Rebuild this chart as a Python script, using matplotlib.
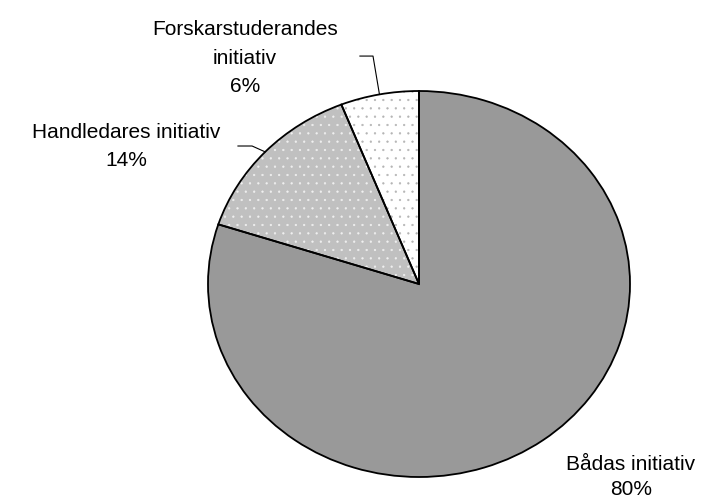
import numpy as np
import matplotlib.pyplot as plt

plt.rcParams['font.family'] = ['Liberation Sans', 'DejaVu Sans']
plt.rcParams['hatch.linewidth'] = 0.4

labels = ['Forskarstuderandes\ninitiativ', 'Handledares initiativ', 'Bådas initiativ']
shares = [6, 14, 80]
colors = ['#ffffff', '#c0c0c0', '#999999']
dot_colors = ['#b4b4b4', '#f0f0f0', '#999999']
hatches = ['..', '..', '']

fig = plt.figure(figsize=(7.1, 5.02), dpi=100)
ax = fig.add_axes([208 / 710, 24 / 502, 422 / 710, 386 / 502])

# fill + dots (hatch takes the edge colour, so draw outline separately)
wedges, _ = ax.pie(shares, startangle=90, counterclock=True, colors=colors,
                   wedgeprops=dict(linewidth=0))
for w, hc, h in zip(wedges, dot_colors, hatches):
    w.set_hatch(h)
    w.set_edgecolor(hc)
    w.set_linewidth(0)
ax.pie(shares, startangle=90, counterclock=True,
       wedgeprops=dict(fill=False, edgecolor='black', linewidth=1.3))
ax.set_aspect('auto')
ax.set_xlim(-1, 1)
ax.set_ylim(-1, 1)

# labels with leader lines
text_pos = [(-0.825, 1.176), (-1.389, 0.718), (1.005, -0.995)]
spacing = [1.65, 1.65, 1.4]
elbows = [[(-0.280, 1.181), (-0.218, 1.181)], [(-0.858, 0.715), (-0.791, 0.715)], None]
for w, lab, s, tp, ls, el in zip(wedges, labels, shares, text_pos, spacing, elbows):
    ax.text(tp[0], tp[1], f'{lab}\n{s}%', ha='center', va='center',
            fontsize=15, linespacing=ls, clip_on=False)
    if el is not None:
        mid = np.deg2rad((w.theta1 + w.theta2) / 2)
        xs = [el[0][0], el[1][0], np.cos(mid)]
        ys = [el[0][1], el[1][1], np.sin(mid)]
        ax.plot(xs, ys, color='black', linewidth=0.8, clip_on=False)

fig.savefig('out.png', dpi=100)
